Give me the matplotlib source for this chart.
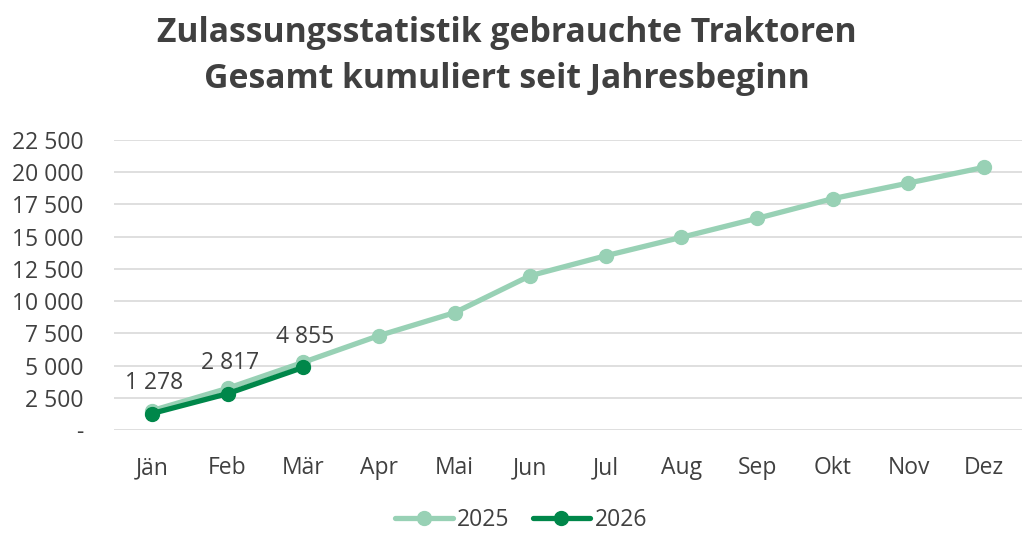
import matplotlib.pyplot as plt
from matplotlib.ticker import FuncFormatter, MultipleLocator

plt.rcParams['font.family'] = ['Open Sans', 'DejaVu Sans']

# Daten
monate = ['Jän', 'Feb', 'Mär', 'Apr', 'Mai', 'Jun', 'Jul', 'Aug', 'Sep', 'Okt', 'Nov', 'Dez']
werte_2025 = [1500, 3230, 5250, 7320, 9100, 11970, 13520, 14950, 16420, 17950, 19160, 20380]
werte_2026 = [1278, 2817, 4855]

farbe_2025 = '#98d1b5'
farbe_2026 = '#00874a'
grau = '#404040'


def tausender(v, pos):
    if v == 0:
        return '-'
    return f'{int(v):,}'.replace(',', ' ')


fig = plt.figure(figsize=(10.30, 5.58), dpi=100)
ax = fig.add_axes([0.1107, 0.2294, 0.8815, 0.5197])

x25 = range(len(werte_2025))
x26 = range(len(werte_2026))
ax.plot(x25, werte_2025, color=farbe_2025, lw=3.8, marker='o', ms=10,
        solid_capstyle='round', label='2025', zorder=3)
ax.plot(x26, werte_2026, color=farbe_2026, lw=3.8, marker='o', ms=10,
        solid_capstyle='round', label='2026', zorder=4)

# Beschriftung der Werte 2026
for i, v in enumerate(werte_2026):
    ax.annotate(tausender(v, None), (i, v), xytext=(1.5, 22), textcoords='offset points',
                ha='center', va='center', fontsize=16.5, color=grau)

ax.set_xlim(-0.5, len(monate) - 0.5)
ax.set_ylim(0, 22500)
ax.yaxis.set_major_locator(MultipleLocator(2500))
ax.yaxis.set_major_formatter(FuncFormatter(tausender))
ax.set_xticks(list(x25))
ax.set_xticklabels(monate)

ax.grid(axis='y', color='#d9d9d9', lw=1.2, zorder=0)
for s in ax.spines.values():
    s.set_visible(False)
ax.tick_params(length=0, labelsize=16.5, labelcolor=grau)
ax.tick_params(axis='x', pad=19)
ax.tick_params(axis='y', pad=22)

ax.legend(loc='center', bbox_to_anchor=(0.506, 0.068), bbox_transform=fig.transFigure,
          ncol=2, frameon=False, fontsize=16.5, handlelength=2.5, handletextpad=0.2,
          columnspacing=1.0, labelcolor=grau)

fig.text(0.492, 0.924, 'Zulassungsstatistik gebrauchte Traktoren', ha='center',
         va='baseline', fontsize=24.3, fontweight='bold', color=grau)
fig.text(0.492, 0.842, 'Gesamt kumuliert seit Jahresbeginn', ha='center',
         va='baseline', fontsize=24.3, fontweight='bold', color=grau)

fig.savefig('out.png', dpi=100)
